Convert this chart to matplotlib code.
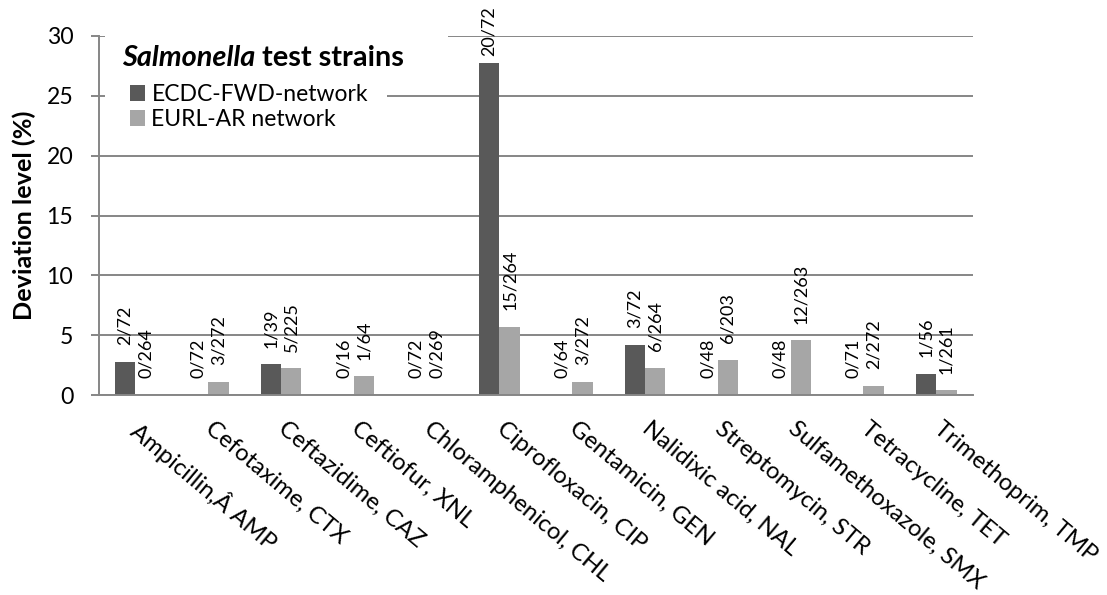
#!/usr/bin/env python3
import matplotlib
matplotlib.use("Agg")
import matplotlib.pyplot as plt
import matplotlib.transforms as mtransforms
from matplotlib.font_manager import FontProperties
from matplotlib.patches import Rectangle
from matplotlib.textpath import TextPath

FAMILY = ["Lato", "DejaVu Sans"]
plt.rcParams["font.family"] = FAMILY
DPI = 100

antibiotics = ["Ampicillin,Â AMP", "Cefotaxime, CTX", "Ceftazidime, CAZ",
               "Ceftiofur, XNL", "Chloramphenicol, CHL", "Ciprofloxacin, CIP",
               "Gentamicin, GEN", "Nalidixic acid, NAL", "Streptomycin, STR",
               "Sulfamethoxazole, SMX", "Tetracycline, TET", "Trimethoprim, TMP"]
ecdc_values = [2.78, 0.0, 2.56, 0.0, 0.0, 27.78, 0.0, 4.17, 0.0, 0.0, 0.0, 1.79]
eurl_values = [0.0, 1.10, 2.22, 1.56, 0.0, 5.68, 1.10, 2.27, 2.96, 4.56, 0.74, 0.38]
ecdc_labels = ["2/72", "0/72", "1/39", "0/16", "0/72", "20/72",
               "0/64", "3/72", "0/48", "0/48", "0/71", "1/56"]
eurl_labels = ["0/264", "3/272", "5/225", "1/64", "0/269", "15/264",
               "3/272", "6/264", "6/203", "12/263", "2/272", "1/261"]

DARK = "#595959"
LIGHT = "#a6a6a6"
AXIS = "#868686"


def fit_size(s, px, weight="normal"):
    # font size (pt) that gives the string an ink width of px pixels
    fp = FontProperties(family=FAMILY, weight=weight)
    w = TextPath((0, 0), s, size=1, prop=fp).get_extents().width
    return px / w * 72 / DPI


fs_tick = fit_size("30", 25)
fs_xtick = fit_size("Ampicillin,Â AMP", 182)
fs_bar = fit_size("0/264", 49)
fs_ylabel = fit_size("Deviation level (%)", 207, "bold")
fs_title = fit_size("Salmonella test strains", 286, "bold")
fs_leg = fit_size("ECDC-FWD-network", 214)

fig = plt.figure(figsize=(11.07, 5.95), dpi=DPI)
ax = fig.add_axes([0.0894, 0.3361, 0.7892, 0.6034])

x = list(range(len(antibiotics)))
w = 0.28
b1 = ax.bar([i - w / 2 for i in x], ecdc_values, w, color=DARK,
            label="ECDC-FWD-network", zorder=2)
b2 = ax.bar([i + w / 2 for i in x], eurl_values, w, color=LIGHT,
            label="EURL-AR network", zorder=2)
ann1 = ax.bar_label(b1, labels=ecdc_labels, rotation=90, padding=12,
                    fontsize=fs_bar)
ax.bar_label(b2, labels=eurl_labels, rotation=90, padding=12, fontsize=fs_bar)
# the tallest label is pushed down to stay inside the chart, as in the original
tallest = ecdc_values.index(max(ecdc_values))
ann1[tallest].xyann = (0, 5)

ax.set_xlim(-0.5, len(antibiotics) - 0.5)
ax.set_ylim(0, 30)
ax.set_yticks([0, 5, 10, 15, 20, 25, 30])
ax.yaxis.grid(True, color=AXIS, linewidth=1.4, zorder=0.5)
ax.set_axisbelow(True)
for s in ["top", "right"]:
    ax.spines[s].set_visible(False)
for s in ["left", "bottom"]:
    ax.spines[s].set_color(AXIS)
    ax.spines[s].set_linewidth(1.4)
ax.tick_params(axis="y", length=6, width=1.4, color=AXIS, labelsize=fs_tick,
               pad=12.5)
ax.tick_params(axis="x", length=0, pad=16.5)
ax.set_xticks(x)
ax.set_xticklabels(antibiotics, rotation=-40, ha="left", va="top",
                   rotation_mode="anchor", fontsize=fs_xtick)
shift = mtransforms.ScaledTranslation(7 / DPI, 0, fig.dpi_scale_trans)
for lab in ax.get_xticklabels():
    lab.set_transform(lab.get_transform() + shift)

fig.text(24 / 1107, 1 - 215 / 595, "Deviation level (%)", rotation=90,
         ha="center", va="center", fontsize=fs_ylabel, fontweight="bold")

# white boxes behind the title and legend (hide the gridlines there)
ax.add_patch(Rectangle((0.007, 0.891), 0.3926, 0.135, transform=ax.transAxes,
                       facecolor="white", edgecolor="none", zorder=1.5,
                       clip_on=False))
ax.add_patch(Rectangle((0.007, 0.696), 0.3228, 0.19, transform=ax.transAxes,
                       facecolor="white", edgecolor="none", zorder=1.5,
                       clip_on=False))

t1 = ax.text(0.0263, 0.9387, "Salmonella", transform=ax.transAxes,
             fontsize=fs_title, fontweight="bold", fontstyle="italic",
             va="center", ha="left", zorder=3)
ax.annotate(" test strains", xy=(1, 0), xycoords=t1, va="bottom", ha="left",
            fontsize=fs_title, fontweight="bold", zorder=3)

fpx = fs_leg * DPI / 72
top = 98 - 0.6 * fpx
ax.legend(loc="upper left", bbox_to_anchor=((130 - 99) / 873.6, (395 - top) / 359),
          frameon=False, fontsize=fs_leg, handlelength=15.5 / fpx,
          handleheight=15.5 / fpx, handletextpad=6 / fpx,
          labelspacing=(31 - 1.2 * fpx) / fpx, borderpad=0, borderaxespad=0)

fig.savefig("out.png", dpi=DPI)
